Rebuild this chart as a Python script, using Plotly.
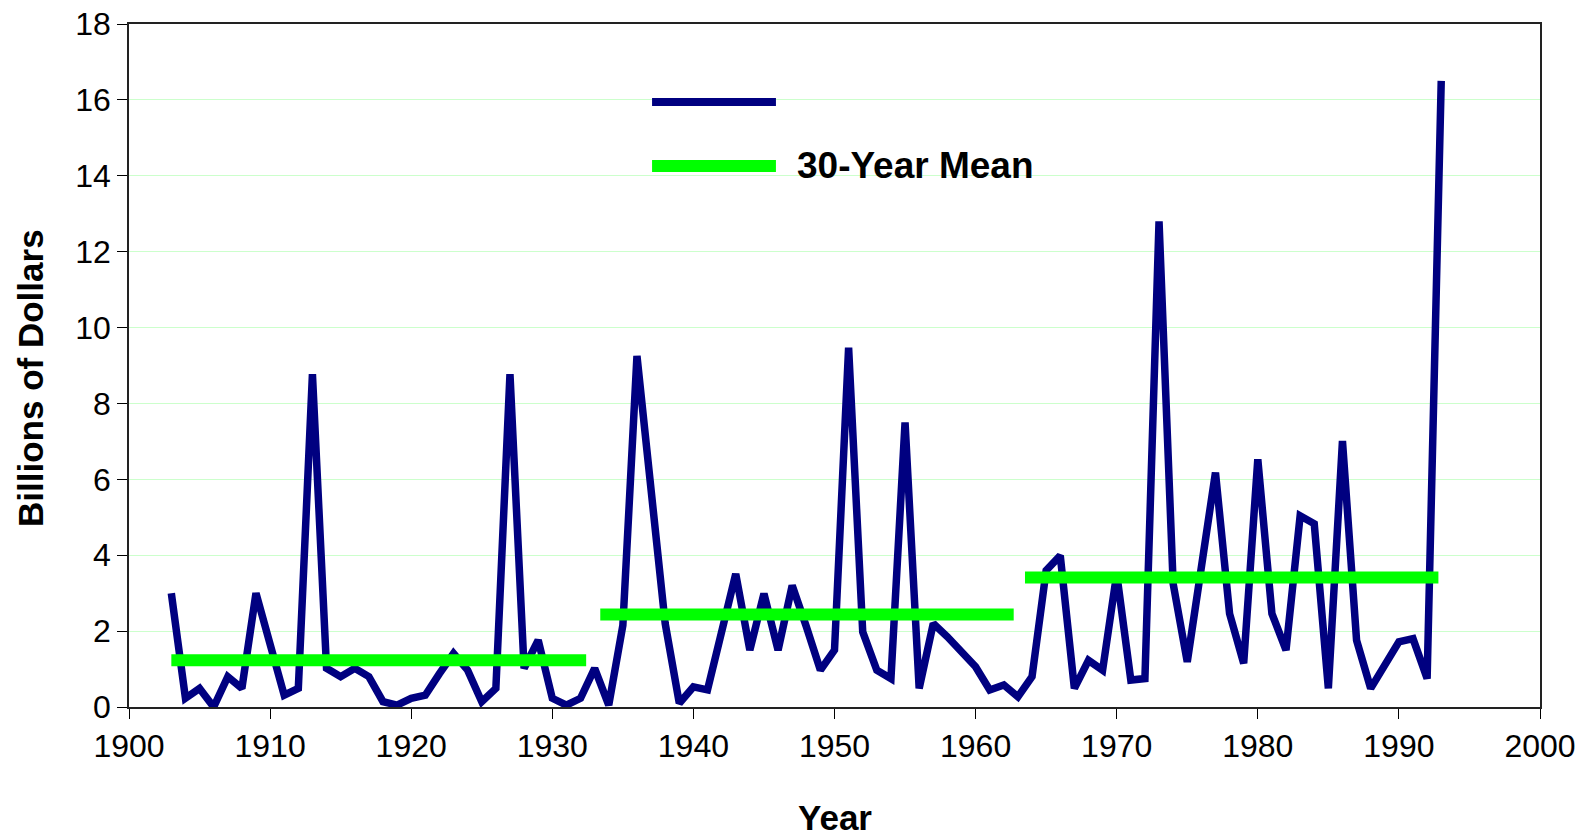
import plotly.graph_objects as go

# annual values, billions of dollars
years = list(range(1903, 1994))
losses = [
    3.0, 0.23, 0.49, 0.0, 0.8, 0.49, 3.0, 1.63, 0.31, 0.49,   # 1903-1912
    8.77, 1.02, 0.8, 1.02, 0.8, 0.14, 0.05, 0.23, 0.31, 0.88,  # 1913-1922
    1.41, 0.97, 0.14, 0.49, 8.77, 1.02, 1.76, 0.23, 0.05, 0.23,  # 1923-1932
    1.02, 0.05, 2.15, 9.25, 5.7, 2.2, 0.1, 0.53, 0.45, 1.94,   # 1933-1942
    3.51, 1.5, 2.99, 1.5, 3.2, 2.12, 0.97, 1.5, 9.47, 1.98,    # 1943-1952
    0.97, 0.75, 7.5, 0.49, 2.2, 1.85, 1.48, 1.06, 0.45, 0.58,  # 1953-1962
    0.27, 0.8, 3.6, 3.99, 0.49, 1.23, 0.97, 3.51, 0.71, 0.75,  # 1963-1972
    12.8, 3.25, 1.19, 3.63, 6.18, 2.46, 1.15, 6.53, 2.46, 1.5,  # 1973-1982
    5.04, 4.83, 0.49, 7.01, 1.76, 0.49, 1.06, 1.72, 1.8, 0.75,  # 1983-1992
    16.5,                                                        # 1993
]

# 30-year means
mean_start = [1903, 1933.4, 1963.5]
mean_end = [1932.4, 1962.7, 1992.8]
mean_value = [1.23, 2.44, 3.41]

y_ticks = list(range(0, 19, 2))
x_ticks = list(range(1900, 2001, 10))

NAVY = '#000080'
GREEN = '#00ff00'
FONT = 'Liberation Sans, Arial, sans-serif'

fig = go.Figure()

fig.add_trace(go.Scatter(
    x=years, y=losses, mode='lines',
    line=dict(color=NAVY, width=7.5),
    showlegend=False,
))

for x0, x1, m in zip(mean_start, mean_end, mean_value):
    fig.add_trace(go.Scatter(
        x=[x0, x1], y=[m, m], mode='lines',
        line=dict(color=GREEN, width=12),
        showlegend=False,
    ))

# hand-drawn legend (long line samples)
fig.add_shape(type='line', xref='paper', yref='paper',
              x0=0.3707, x1=0.4585, y0=0.8858, y1=0.8858,
              line=dict(color=NAVY, width=8))
fig.add_shape(type='line', xref='paper', yref='paper',
              x0=0.3707, x1=0.4585, y0=0.7921, y1=0.7921,
              line=dict(color=GREEN, width=12))
fig.add_annotation(xref='paper', yref='paper', x=0.472, y=0.7921,
                   xanchor='left', yanchor='middle', showarrow=False,
                   text='<b>30-Year Mean</b>',
                   font=dict(family=FONT, size=37, color='black'))

# axis titles
fig.add_annotation(xref='paper', yref='paper', x=0.5, y=-0.1625,
                   xanchor='center', yanchor='middle', showarrow=False,
                   text='<b>Year</b>',
                   font=dict(family=FONT, size=35, color='black'))
fig.add_annotation(xref='paper', yref='paper', x=-0.0695, y=0.4817,
                   xanchor='center', yanchor='middle', showarrow=False,
                   textangle=-90, text='<b>Billions of Dollars</b>',
                   font=dict(family=FONT, size=35, color='black'))

# page body adds an 8px margin, so the figure is 16px smaller each way
fig.update_layout(
    width=1585, height=828,
    margin=dict(l=121, r=53, t=16, b=129),
    plot_bgcolor='white', paper_bgcolor='white',
    font=dict(family=FONT, size=32, color='black'),
    xaxis=dict(
        range=[1900, 2000], tickvals=x_ticks, automargin=False,
        ticks='outside', ticklen=10, tickcolor='black',
        ticklabeloverflow='allow',
        showline=True, linecolor='#222', linewidth=2, mirror=True,
        showgrid=False, zeroline=False,
    ),
    yaxis=dict(
        range=[0, 18], tickvals=y_ticks, automargin=False,
        ticks='outside', ticklen=10, tickcolor='black',
        ticklabeloverflow='allow',
        showline=True, linecolor='#222', linewidth=1.5, mirror=True,
        showgrid=True, gridcolor='#ccffcc', gridwidth=1, zeroline=False,
    ),
)

fig.write_html("out.html")
